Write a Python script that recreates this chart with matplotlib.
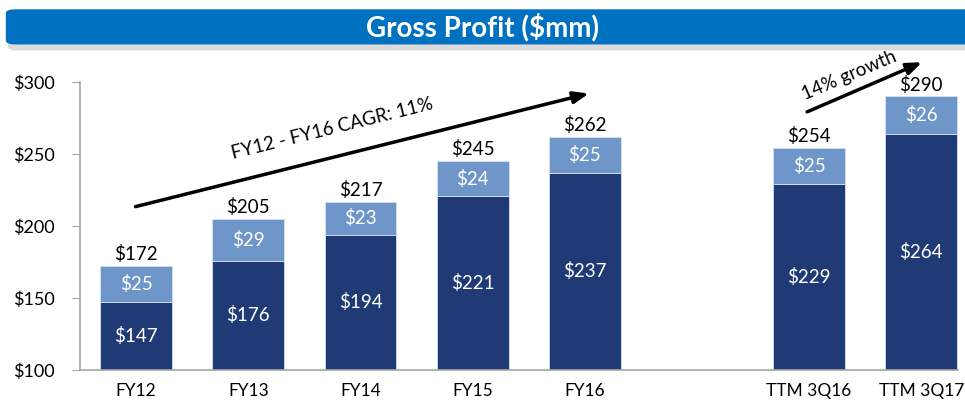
import matplotlib
matplotlib.use("Agg")
import matplotlib.pyplot as plt
from matplotlib.patches import FancyBboxPatch
import numpy as np

# --- data ---
periods = ["FY12", "FY13", "FY14", "FY15", "FY16", "TTM 3Q16", "TTM 3Q17"]
x_pos = [0, 1, 2, 3, 4, 6, 7]
base_vals = [147, 176, 194, 221, 237, 229, 264]
top_vals = [25, 29, 23, 24, 25, 25, 26]
totals = [172, 205, 217, 245, 262, 254, 290]
y_ticks = [100, 150, 200, 250, 300]

dark = "#1F3A75"
light = "#6E96C8"
banner = "#0070C0"

plt.rcParams["font.family"] = ["Lato", "DejaVu Sans"]

fig = plt.figure(figsize=(9.65, 4.04), dpi=100)
ax = fig.add_axes([0.083, 0.084, 0.910, 0.713])

# --- title banner ---
shadow = FancyBboxPatch((0.008, 0.875), 1.05, 0.085, boxstyle="round,pad=0,rounding_size=0.01",
                        transform=fig.transFigure, facecolor="#999999", edgecolor="none",
                        alpha=0.35, zorder=0)
fig.patches.append(shadow)
ban = FancyBboxPatch((0.006, 0.89), 1.05, 0.087, boxstyle="round,pad=0,rounding_size=0.01",
                     transform=fig.transFigure, facecolor=banner, edgecolor="none", zorder=1)
fig.patches.append(ban)
fig.text(0.5, 0.933, "Gross Profit ($mm)", ha="center", va="center", color="white",
         fontsize=20, fontweight="bold")

# --- bars ---
w = 0.64
ax.bar(x_pos, base_vals, width=w, bottom=0, color=dark, edgecolor="#d8e0ee", linewidth=0.6, zorder=2)
ax.bar(x_pos, top_vals, width=w, bottom=base_vals, color=light, edgecolor="#d8e0ee", linewidth=0.6, zorder=2)

for x, b, t, tot in zip(x_pos, base_vals, top_vals, totals):
    ax.text(x, (100 + b) / 2, f"${b}", ha="center", va="center", color="white", fontsize=13.5, zorder=3)
    ax.text(x, b + t / 2, f"${t}", ha="center", va="center", color="white", fontsize=13.5, zorder=3)
    ax.text(x, tot + 2, f"${tot}", ha="center", va="bottom", color="black", fontsize=13.5, zorder=3)

# --- arrows ---
ax.annotate("", xy=(4.06, 292.5), xytext=(-0.03, 213),
            arrowprops=dict(arrowstyle="-|>,head_length=0.9,head_width=0.35", color="black", lw=2.5),
            annotation_clip=False)
ax.text(1.75, 268, "FY12 - FY16 CAGR: 11%", rotation=14, ha="center", va="center", fontsize=13.5)

ax.annotate("", xy=(7.03, 314.5), xytext=(5.96, 278.5),
            arrowprops=dict(arrowstyle="-|>,head_length=0.9,head_width=0.35", color="black", lw=2.5),
            annotation_clip=False)
ax.text(6.36, 304.5, "14% growth", rotation=23, ha="center", va="center", fontsize=13.5)

# --- axes formatting ---
ax.set_xlim(-0.5, 7.33)
ax.set_ylim(100, 300)
ax.set_xticks(x_pos)
ax.set_xticklabels(periods, fontsize=12.5)
ax.set_yticks(y_ticks)
ax.set_yticklabels([f"${v}" for v in y_ticks], fontsize=13)
ax.tick_params(axis="x", length=0, pad=9)
ax.tick_params(axis="y", length=6, color="#a6a6a6", pad=12)
for s in ["top", "right"]:
    ax.spines[s].set_visible(False)
for s in ["left", "bottom"]:
    ax.spines[s].set_color("#a6a6a6")
    ax.spines[s].set_linewidth(1.2)

fig.savefig("out.png", dpi=100)
